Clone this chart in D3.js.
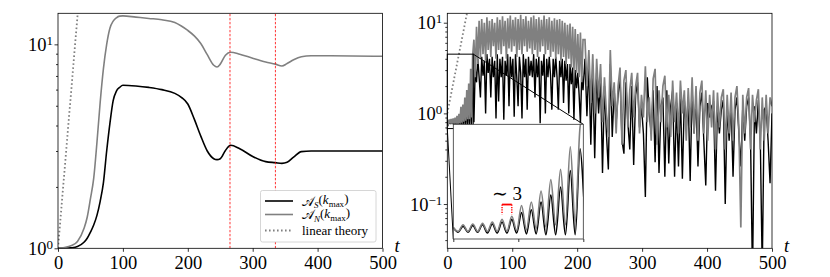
<!DOCTYPE html>
<html>
<head>
<meta charset="utf-8">
<script src="https://cdnjs.cloudflare.com/ajax/libs/d3/7.8.5/d3.min.js"></script>
<style>
  body { margin: 0; background: #fff; }
</style>
</head>
<body>
<div id="vis"></div>
<script>

// ---------- data ----------

// left panel: smooth amplitudes at k_max
var leftT = [0, 10, 20, 30, 40, 45, 50, 55, 60, 65, 70, 75, 80, 85, 90, 95, 100, 120, 140, 160,
  180, 190, 200, 210, 220, 230, 240, 245, 250, 258, 266, 280, 300, 320, 335, 345, 353, 363, 375, 390, 420, 500];
var leftS = [1.0, 1.0, 1.005, 1.02, 1.07, 1.12, 1.2, 1.3, 1.45, 1.7, 2.1, 3.0, 4.1, 5.3, 5.9, 6.15, 6.3, 6.25, 6.15, 6.0,
  5.75, 5.5, 5.1, 4.3, 3.55, 3.0, 2.75, 2.72, 2.75, 3.02, 3.2, 3.08, 2.82, 2.66, 2.63, 2.61, 2.64, 2.8, 2.98, 3.0, 3.0, 3.0];
var leftN = [1.0, 1.01, 1.03, 1.08, 1.25, 1.42, 1.75, 2.2, 3.3, 5.2, 7.6, 10.0, 12.0, 13.0, 13.5, 13.75, 13.8, 13.6, 13.4, 13.2,
  12.8, 12.3, 11.7, 11.0, 10.1, 8.9, 7.9, 7.75, 8.0, 8.85, 9.15, 8.95, 8.55, 8.2, 8.0, 7.83, 8.05, 8.4, 8.7, 8.8, 8.8, 8.75];

// vertical markers in the left panel
var markerT = [265, 335];

// linear theory (two end points per panel)
var linT = [0, 31];
var linLeft = [1.0, 15.0];
var linRight = [1.0, 13.5];

// right panel: sampled in three blocks, t = start + i * step
var blockStart = [0, 41, 212];
var blockStep = [1.5, 2, 3];

var rightS1 = [0.82, 0.76, 0.84, 0.76, 0.85, 0.76, 0.86, 0.75, 0.87, 0.75, 0.9, 0.75, 0.94, 0.75,
  1.05, 0.74, 1.1, 0.74, 1.25, 0.73, 1.4, 0.73, 1.6, 0.73, 2.1, 0.73, 3.0];
var rightN1 = [0.82, 0.77, 0.86, 0.77, 0.87, 0.77, 0.88, 0.77, 0.9, 0.77, 0.94, 0.77, 0.99, 0.78,
  1.18, 0.79, 1.25, 0.81, 1.50, 0.83, 1.81, 0.86, 2.14, 0.86, 3.1, 0.9, 4.3];

var rightS2 = [0.8, 3.2, 2.2, 4.0, 2.5, 1.5, 4.2, 2.6, 3.8, 1.0,
  4.5, 2.8, 4.0, 1.5, 4.2, 2.5, 3.8, 0.88, 4.5, 1.35,
  4.0, 2.5, 4.2, 0.85, 3.8, 2.6, 4.5, 1.2, 4.2, 2.5,
  4.0, 0.92, 4.5, 2.5, 1.2, 4.2, 2.8, 0.88, 4.5, 2.5,
  4.0, 1.1, 4.2, 2.6, 3.8, 2.5, 4.5, 1.5, 4.0, 2.5,
  4.2, 0.78, 3.8, 2.6, 4.5, 1.0, 4.0, 2.5, 4.2, 2.6,
  1.1, 4.0, 2.5, 4.2, 2.5, 1.1, 3.8, 2.5, 4.0, 1.3,
  3.8, 2.3, 3.5, 1.0, 3.5, 2.1, 3.2, 0.85, 3.0, 1.9,
  2.8, 1.6, 0.78, 2.6, 1.8];
var rightN2 = [6.5, 2.5, 9.0, 3.5, 10.5, 4.0, 11.0, 4.5, 10.0, 3.8,
  11.5, 5.0, 10.5, 4.2, 11.0, 5.5, 10.0, 4.0, 11.5, 5.0,
  10.8, 4.5, 11.8, 5.5, 10.5, 4.0, 11.2, 5.2, 12.0, 4.8,
  10.8, 5.5, 11.5, 4.2, 11.0, 5.0, 12.2, 4.5, 11.0, 5.5,
  11.8, 4.8, 10.5, 5.2, 11.5, 4.5, 12.0, 5.0, 11.0, 4.2,
  11.5, 4.8, 10.8, 5.5, 12.0, 4.5, 11.0, 5.0, 11.5, 4.2,
  10.5, 4.8, 11.2, 4.0, 10.8, 4.5, 11.0, 3.8, 10.5, 4.2,
  10.0, 3.5, 9.5, 4.0, 9.8, 3.2, 9.0, 3.0, 8.5, 2.8,
  7.5, 2.5, 7.8, 2.2, 6.5];

var rightS3 = [4.0, 0.93, 3.5, 0.45, 3.0, 0.32, 2.8, 1.0, 2.5, 0.22,
  2.0, 0.6, 0.24, 3.5, 0.55, 1.8, 0.8, 1.6, 2.5, 0.5,
  0.36, 2.2, 0.8, 0.4, 2.0, 0.27, 1.6, 2.2, 0.7, 1.2,
  0.6, 0.12, 2.5, 1.0, 0.6, 1.8, 0.29, 2.0, 0.22, 1.2,
  1.5, 0.2, 1.8, 0.28, 1.2, 1.8, 0.2, 1.3, 0.26, 1.6,
  0.19, 1.4, 0.7, 1.5, 0.18, 1.8, 0.6, 1.5, 0.26, 1.2,
  1.7, 0.5, 0.16, 1.3, 0.9, 1.2, 1.3, 0.14, 1.2, 0.6,
  1.1, 1.4, 0.10, 1.2, 0.5, 1.3, 0.2, 1.1, 1.5, 0.6,
  0.26, 1.2, 0.5, 1.2, 1.5, 0.5, 0.015, 1.2, 0.6, 1.4,
  0.5, 0.018, 1.1, 1.2, 0.5, 0.17, 1.0];
var rightN3 = [6.5, 2.0, 5.0, 1.3, 4.5, 1.0, 4.0, 1.5, 3.5, 0.8,
  2.5, 1.0, 0.55, 5.0, 1.2, 2.2, 0.6, 2.0, 3.2, 0.45,
  2.3, 3.0, 0.7, 1.8, 2.8, 0.9, 2.0, 2.8, 0.6, 1.6,
  0.9, 3.3, 0.8, 1.5, 0.5, 2.4, 3.1, 0.45, 1.8, 0.8,
  2.0, 2.6, 0.7, 1.6, 0.55, 2.3, 0.8, 1.7, 0.6, 2.3,
  1.0, 1.8, 0.5, 1.9, 0.7, 2.5, 0.6, 2.0, 0.5, 1.7,
  2.3, 0.6, 1.8, 0.5, 1.6, 0.7, 1.8, 0.4, 1.7, 0.7,
  1.5, 1.85, 0.4, 1.6, 0.6, 1.7, 0.5, 1.5, 2.0, 0.7,
  0.055, 1.6, 0.6, 1.5, 1.9, 0.4, 1.6, 0.8, 1.4, 1.85,
  0.4, 1.5, 0.5, 1.6, 0.6, 1.5, 1.2];

// zoomed region shown in the inset
var zoomT = [0, 40];
var zoomV = [0.68, 4.5];

// "~ 3" bracket in the inset
var bracketT = [15, 18];
var bracketV = [1.2, 1.02];

// ticks
var xTicks = [0, 100, 200, 300, 400, 500];
var leftYTicks = [1, 10];
var rightYTicks = [0.1, 1, 10];
var insetXTicks = [0, 20, 40];

// ---------- drawing ----------

var width = 830;
var height = 277;
var grey = '#808080';
var serif = 'Liberation Serif';
var labelSize = 18.5;

var svg = d3.select('#vis').append('svg')
  .attr('width', width)
  .attr('height', height)
  .attr('font-family', serif);

var xL = d3.scaleLinear().domain([0, 500]).range([58, 382.5]);
var yL = d3.scaleLog().domain([1, 14.2]).range([248.3, 13.3]);
var xR = d3.scaleLinear().domain([0, 500]).range([447.3, 772]);
var yR = d3.scaleLog().domain([0.0325, 12.7]).range([248.3, 13.3]);
var xI = d3.scaleLinear().domain(zoomT).range([453.3, 583.3]);
var yI = d3.scaleLog().domain(zoomV).range([239, 124.3]);

function toPoints(t, v) {
  return t.map(function(d, i) { return { t: d, v: v[i] }; });
}

// glue the three sampled blocks together
function toBlocks(parts) {
  var out = [];
  parts.forEach(function(p, k) {
    p.forEach(function(v, i) {
      out.push({ t: blockStart[k] + i * blockStep[k], v: v });
    });
  });
  return out;
}

var rightS = toBlocks([rightS1, rightS2, rightS3]);
var rightN = toBlocks([rightN1, rightN2, rightN3]);

var defs = svg.append('defs');
function addClip(id, x, y) {
  defs.append('clipPath').attr('id', id).append('rect')
    .attr('x', x.range()[0]).attr('y', y.range()[1])
    .attr('width', x.range()[1] - x.range()[0])
    .attr('height', y.range()[0] - y.range()[1]);
}
addClip('clipL', xL, yL);
addClip('clipR', xR, yR);
addClip('clipI', xI, yI);

function frame(g, x, y, col) {
  g.append('rect')
    .attr('x', x.range()[0]).attr('y', y.range()[1])
    .attr('width', x.range()[1] - x.range()[0])
    .attr('height', y.range()[0] - y.range()[1])
    .attr('fill', 'none')
    .attr('stroke', col || '#000')
    .attr('stroke-width', 0.8);
}

function xAxis(g, x, y) {
  var a = g.append('g')
    .attr('transform', 'translate(0,' + y.range()[0] + ')')
    .call(d3.axisBottom(x).tickValues(xTicks).tickSize(3.5).tickPadding(4.5).tickFormat(d3.format('d')));
  a.select('.domain').remove();
  a.attr('font-family', serif).attr('font-size', labelSize);
  a.selectAll('text').attr('font-family', serif);
  a.selectAll('line').attr('stroke-width', 0.8);
}

function yAxis(g, x, y, majors) {
  var x0 = x.range()[0];
  var minors = y.ticks().filter(function(v) {
    return Math.abs(Math.log10(v) - Math.round(Math.log10(v))) > 1e-6;
  });
  var a = g.append('g').attr('transform', 'translate(' + x0 + ',0)');
  a.call(d3.axisLeft(y).tickValues(majors).tickSize(3.5).tickFormat(''));
  a.select('.domain').remove();
  var m = g.append('g').attr('transform', 'translate(' + x0 + ',0)');
  m.call(d3.axisLeft(y).tickValues(minors).tickSize(2).tickFormat(''));
  m.select('.domain').remove();
  g.selectAll('line').attr('stroke-width', 0.8);

  var lab = g.selectAll(null).data(majors).enter().append('text')
    .attr('x', x0 - 5)
    .attr('y', function(d) { return y(d); })
    .attr('dy', '0.35em')
    .attr('text-anchor', 'end')
    .attr('font-family', serif)
    .attr('font-size', labelSize);
  lab.append('tspan').text('10');
  lab.append('tspan')
    .attr('dy', '-0.45em')
    .attr('font-size', 13)
    .text(function(d) { return String(Math.round(Math.log10(d))).replace('-', '\u2212'); });
}

function tLabel(g, x, y) {
  g.append('text')
    .attr('x', x.range()[1] + 12)
    .attr('y', y.range()[0] + 4)
    .attr('font-family', serif)
    .attr('font-size', labelSize)
    .attr('font-style', 'italic')
    .text('t');
}

// ----- left panel -----
var gL = svg.append('g');
var plotL = gL.append('g').attr('clip-path', 'url(#clipL)');

var lineL = d3.line()
  .x(function(d) { return xL(d.t); })
  .y(function(d) { return yL(d.v); })
  .curve(d3.curveMonotoneX);

plotL.append('path').datum(toPoints(linT, linLeft))
  .attr('d', d3.line().x(function(d) { return xL(d.t); }).y(function(d) { return yL(d.v); }))
  .attr('fill', 'none').attr('stroke', grey).attr('stroke-width', 1.8)
  .attr('stroke-dasharray', '1.6,2.4');

plotL.append('path').datum(toPoints(leftT, leftS))
  .attr('d', lineL).attr('fill', 'none').attr('stroke', '#000').attr('stroke-width', 1.6);
plotL.append('path').datum(toPoints(leftT, leftN))
  .attr('d', lineL).attr('fill', 'none').attr('stroke', grey).attr('stroke-width', 1.6);

plotL.selectAll('.marker').data(markerT).enter().append('line')
  .attr('x1', function(d) { return xL(d); }).attr('x2', function(d) { return xL(d); })
  .attr('y1', yL.range()[0]).attr('y2', yL.range()[1])
  .attr('stroke', '#ff0000').attr('stroke-width', 2.6)
  .attr('stroke-dasharray', '2.4,1.6');

frame(gL, xL, yL);
xAxis(gL, xL, yL);
yAxis(gL, xL, yL, leftYTicks);
tLabel(gL, xL, yL);

// legend
var leg = gL.append('g');
leg.append('rect')
  .attr('x', 260.5).attr('y', 190.5).attr('width', 115.5).attr('height', 51.5)
  .attr('rx', 2).attr('fill', '#fff').attr('stroke', '#cccccc').attr('stroke-width', 0.8);

var legRows = [
  { y: 201, col: '#000', dash: null, sub: 'S' },
  { y: 214.5, col: grey, dash: null, sub: 'N' },
  { y: 230.5, col: grey, dash: '1.6,2.4', sub: null }
];
legRows.forEach(function(r) {
  leg.append('line')
    .attr('x1', 265).attr('x2', 293).attr('y1', r.y).attr('y2', r.y)
    .attr('stroke', r.col).attr('stroke-width', r.dash ? 1.8 : 1.6)
    .attr('stroke-dasharray', r.dash);
  var t = leg.append('text').attr('x', 302).attr('y', r.y + 4.5)
    .attr('font-family', serif).attr('font-size', 13);
  if (r.sub) {
    t.append('tspan').text('\uD835\uDC9C');
    t.append('tspan').attr('font-style', 'italic').attr('font-size', 9).attr('dy', '0.3em').text(r.sub);
    t.append('tspan').attr('dy', '-0.3em').text('(');
    t.append('tspan').attr('font-style', 'italic').text('k');
    t.append('tspan').attr('font-size', 9).attr('dy', '0.3em').text('max');
    t.append('tspan').attr('dy', '-0.3em').text(')');
  } else {
    t.text('linear theory');
  }
});

// ----- right panel -----
var gR = svg.append('g');
var plotR = gR.append('g').attr('clip-path', 'url(#clipR)');

var lineR = d3.line()
  .x(function(d) { return xR(d.t); })
  .y(function(d) { return yR(d.v); });

plotR.append('path').datum(toPoints(linT, linRight))
  .attr('d', lineR)
  .attr('fill', 'none').attr('stroke', grey).attr('stroke-width', 1.8)
  .attr('stroke-dasharray', '1.6,2.4');
plotR.append('path').datum(rightS)
  .attr('d', lineR).attr('fill', 'none').attr('stroke', '#000').attr('stroke-width', 1.4);
plotR.append('path').datum(rightN)
  .attr('d', lineR).attr('fill', 'none').attr('stroke', grey).attr('stroke-width', 1.7);

frame(gR, xR, yR);
xAxis(gR, xR, yR);
yAxis(gR, xR, yR, rightYTicks);
tLabel(gR, xR, yR);

// zoom box and connectors
gR.append('rect')
  .attr('x', xR(zoomT[0])).attr('y', yR(zoomV[1]))
  .attr('width', xR(zoomT[1]) - xR(zoomT[0]))
  .attr('height', yR(zoomV[0]) - yR(zoomV[1]))
  .attr('fill', 'none').attr('stroke', '#000').attr('stroke-width', 1);
gR.append('line')
  .attr('x1', xR(zoomT[1])).attr('y1', yR(zoomV[1]))
  .attr('x2', xI(zoomT[1])).attr('y2', yI(zoomV[1]))
  .attr('stroke', '#000').attr('stroke-width', 1);
gR.append('line')
  .attr('x1', xR(zoomT[0])).attr('y1', yR(zoomV[0]))
  .attr('x2', xI(zoomT[0])).attr('y2', yI(zoomV[0]))
  .attr('stroke', '#000').attr('stroke-width', 1);

// ----- inset -----
var gI = svg.append('g');
gI.append('rect')
  .attr('x', xI.range()[0]).attr('y', yI.range()[1])
  .attr('width', xI.range()[1] - xI.range()[0])
  .attr('height', yI.range()[0] - yI.range()[1])
  .attr('fill', '#fff');
var plotI = gI.append('g').attr('clip-path', 'url(#clipI)');
var lineI = d3.line()
  .x(function(d) { return xI(d.t); })
  .y(function(d) { return yI(d.v); })
  .curve(d3.curveMonotoneX);
plotI.append('path').datum(rightS)
  .attr('d', lineI).attr('fill', 'none').attr('stroke', '#000').attr('stroke-width', 1.6);
plotI.append('path').datum(rightN)
  .attr('d', lineI).attr('fill', 'none').attr('stroke', grey).attr('stroke-width', 1.6);
frame(gI, xI, yI, '#333');

var ia = gI.append('g')
  .attr('transform', 'translate(0,' + yI.range()[0] + ')')
  .call(d3.axisBottom(xI).tickValues(insetXTicks).tickSize(3).tickFormat(''));
ia.select('.domain').remove();
ia.selectAll('line').attr('stroke-width', 0.8);

// bracket marking one period
var bx0 = xI(bracketT[0]), bx1 = xI(bracketT[1]);
var by0 = yI(bracketV[0]), by1 = yI(bracketV[1]);
gI.append('line').attr('x1', bx0).attr('x2', bx1).attr('y1', by0).attr('y2', by0)
  .attr('stroke', '#ff0000').attr('stroke-width', 1.8);
[bx0, bx1].forEach(function(bx) {
  gI.append('line').attr('x1', bx).attr('x2', bx).attr('y1', by0).attr('y2', by1)
    .attr('stroke', '#ff0000').attr('stroke-width', 1.4).attr('stroke-dasharray', '1.2,1.2');
});
gI.append('text')
  .attr('x', (bx0 + bx1) / 2)
  .attr('y', by0 - 5)
  .attr('text-anchor', 'middle')
  .attr('font-family', serif)
  .attr('font-size', 19)
  .text('\u223C 3');

</script>
</body>
</html>
